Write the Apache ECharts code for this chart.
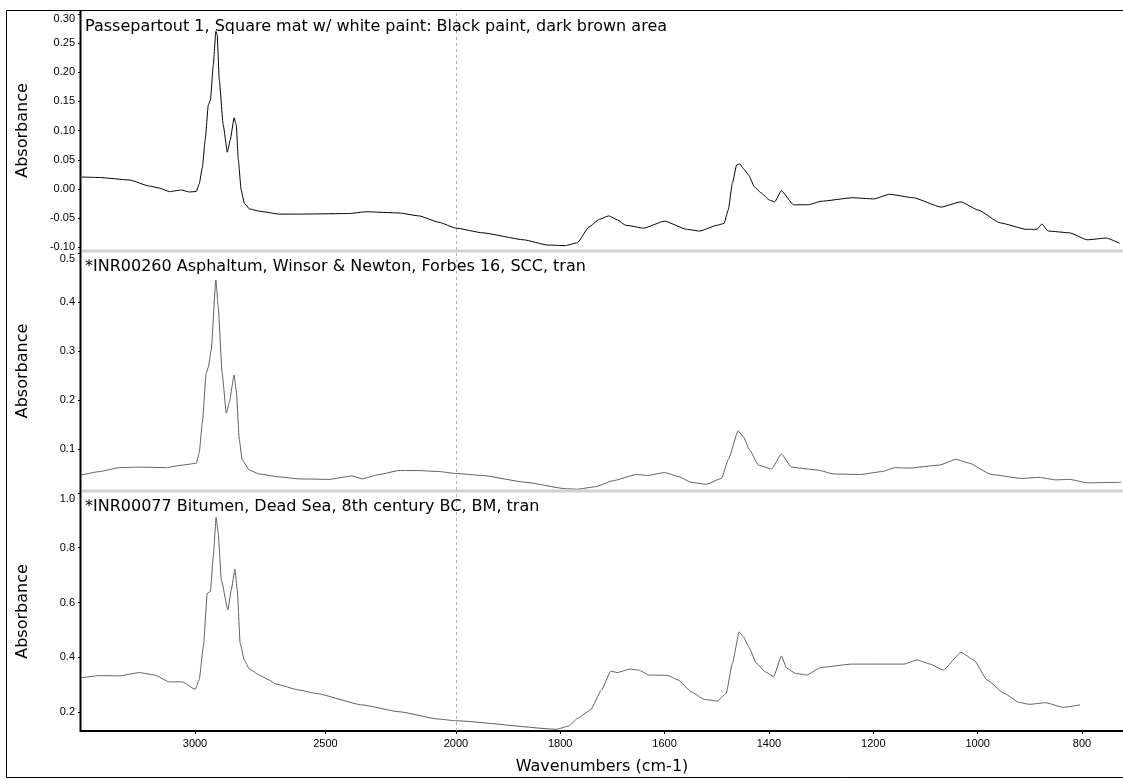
<!DOCTYPE html>
<html>
<head>
<meta charset="utf-8">
<script src="https://cdn.jsdelivr.net/npm/echarts@6/dist/echarts.min.js"></script>
<style>html,body{margin:0;padding:0;background:#fff;}#c{width:1123px;height:779px;}</style>
</head>
<body>
<div id="c"></div>
<script>
// ---- Data (wavenumber cm-1, absorbance) ----
const titles = [
  'Passepartout 1, Square mat w/ white paint: Black paint, dark brown area',
  '*INR00260 Asphaltum, Winsor & Newton, Forbes 16, SCC, tran',
  '*INR00077 Bitumen, Dead Sea, 8th century BC, BM, tran'
];
const wn1 = [3435,3366,3251,3175,3137,3098,3052,3022,2995,2984,2972,2961,2949,2941,2930,2920,2915,2907,2892,2876,2865,2850,2842,2834,2823,2811,2792,2754,2677,2601,2409,2344,2218,2142,2065,2000,1949,1870,1824,1790,1767,1745,1725,1707,1690,1675,1640,1600,1558,1533,1499,1486,1478,1470,1462,1456,1449,1439,1428,1416,1399,1389,1376,1353,1324,1300,1240,1199,1169,1123,1070,1032,999,957,907,886,877,865,824,790,753,728];
const ab1 = [0.0205,0.0197,0.0154,0.0050,0.0017,-0.0045,-0.0017,-0.0051,-0.0043,0.0086,0.036,0.084,0.144,0.152,0.212,0.270,0.264,0.187,0.110,0.063,0.084,0.122,0.110,0.050,-0.002,-0.024,-0.034,-0.038,-0.043,-0.043,-0.042,-0.039,-0.041,-0.046,-0.057,-0.067,-0.075,-0.087,-0.096,-0.097,-0.092,-0.065,-0.052,-0.046,-0.053,-0.062,-0.067,-0.055,-0.069,-0.072,-0.062,-0.059,-0.036,0.010,0.041,0.043,0.035,0.024,0.004,-0.006,-0.019,-0.022,-0.003,-0.027,-0.027,-0.021,-0.015,-0.017,-0.009,-0.015,-0.031,-0.022,-0.036,-0.058,-0.069,-0.069,-0.060,-0.072,-0.075,-0.087,-0.084,-0.093];
const wn2 = [3435,3366,3290,3213,3110,3049,2995,2984,2972,2957,2949,2938,2920,2911,2896,2880,2869,2850,2842,2830,2819,2792,2754,2677,2601,2486,2398,2360,2295,2218,2142,2065,2000,1949,1866,1790,1767,1732,1700,1654,1633,1600,1574,1549,1520,1491,1478,1459,1449,1437,1420,1395,1376,1357,1324,1307,1275,1225,1183,1158,1133,1074,1041,1016,974,916,882,850,824,790,725];
const ab2 = [0.047,0.054,0.062,0.063,0.062,0.067,0.071,0.092,0.153,0.255,0.267,0.302,0.445,0.390,0.255,0.173,0.194,0.251,0.220,0.118,0.078,0.057,0.049,0.043,0.039,0.038,0.045,0.039,0.048,0.056,0.056,0.054,0.050,0.046,0.032,0.019,0.018,0.023,0.035,0.048,0.046,0.052,0.044,0.032,0.028,0.040,0.078,0.137,0.125,0.098,0.067,0.059,0.090,0.063,0.059,0.057,0.049,0.048,0.054,0.062,0.061,0.067,0.079,0.071,0.048,0.040,0.042,0.037,0.038,0.031,0.032];
const wn3 = [3435,3366,3290,3213,3156,3098,3049,2999,2984,2968,2953,2941,2930,2919,2911,2899,2874,2861,2847,2838,2827,2811,2792,2754,2716,2690,2601,2537,2360,2218,2065,2000,1807,1783,1767,1742,1721,1703,1691,1666,1650,1629,1595,1574,1549,1524,1499,1482,1470,1457,1449,1439,1424,1407,1391,1376,1366,1349,1328,1300,1241,1141,1116,1091,1066,1032,1007,982,949,921,900,870,836,804];
const ab3 = [0.325,0.333,0.332,0.344,0.335,0.310,0.310,0.283,0.317,0.439,0.634,0.640,0.767,0.911,0.853,0.682,0.573,0.646,0.721,0.646,0.451,0.390,0.357,0.335,0.317,0.302,0.280,0.268,0.226,0.201,0.174,0.168,0.137,0.149,0.177,0.207,0.280,0.350,0.344,0.357,0.353,0.335,0.334,0.317,0.274,0.246,0.240,0.268,0.378,0.493,0.475,0.439,0.378,0.347,0.329,0.405,0.360,0.341,0.335,0.363,0.375,0.375,0.390,0.375,0.353,0.418,0.390,0.317,0.268,0.235,0.228,0.234,0.217,0.226];
const xTicks = [3000, 2500, 2000, 1800, 1600, 1400, 1200, 1000, 800];
const y1Ticks = [-0.10, -0.05, 0.00, 0.05, 0.10, 0.15, 0.20, 0.25, 0.30];
const y2Ticks = [0.1, 0.2, 0.3, 0.4, 0.5];
const y3Ticks = [0.2, 0.4, 0.6, 0.8, 1.0];

// x axis is compressed 2x above 2000 cm-1 (spectrometer display expansion)
const BREAK = 2000;
const toT = w => (w <= BREAK ? w : BREAK + (w - BREAK) / 2);
const fromT = t => (t <= BREAK ? t : BREAK + (t - BREAK) * 2);

const FONT = 'Liberation Sans, Arial, sans-serif';
const BIG = 'DejaVu Sans, Verdana, sans-serif';
const chart = echarts.init(document.getElementById('c'), null, {renderer: 'canvas'});

const grids = [
  {left: 81, right: 0, top: 11, height: 239},
  {left: 81, right: 0, top: 252, height: 238},
  {left: 81, right: 0, top: 492, height: 239}
];
const yRanges = [[-0.10445, 0.30479], [0.01633, 0.50204], [0.13059, 1.00365]];
const yTickSets = [y1Ticks, y2Ticks, y3Ticks];
const yDigits = [2, 1, 1];
const colors = ['#000000', '#5f5f5f', '#5f5f5f'];
const wns = [wn1, wn2, wn3];
const abs = [ab1, ab2, ab3];

const xAxes = [0, 1, 2].map(i => ({
  type: 'value', gridIndex: i, inverse: true,
  min: 721.4, max: 2718.5,
  show: i === 2,
  axisLine: {show: i === 2, lineStyle: {color: '#000', width: 2}},
  axisTick: {show: i === 2, customValues: xTicks.map(toT), length: 3, lineStyle: {color: '#000'}},
  axisLabel: {show: i === 2, customValues: xTicks.map(toT), color: '#000', fontSize: 11, fontFamily: FONT, margin: 7,
    formatter: v => String(Math.round(fromT(v)))},
  splitLine: {show: false},
  name: i === 2 ? 'Wavenumbers (cm-1)' : '', nameLocation: 'middle', nameGap: 28,
  nameTextStyle: {fontSize: 16, fontFamily: BIG, color: '#000'}
}));

const yAxes = [0, 1, 2].map(i => {
  const ticks = yTickSets[i];
  const topVal = ticks[ticks.length - 1];
  return {
    type: 'value', gridIndex: i,
    min: yRanges[i][0], max: yRanges[i][1],
    axisLine: {show: false},
    axisTick: {show: true, customValues: ticks, length: 3, lineStyle: {color: '#000'}},
    axisLabel: {customValues: ticks, color: '#000', fontSize: 11, fontFamily: FONT, margin: 6, lineHeight: 11,
      formatter: v => {
        const s = v.toFixed(yDigits[i]);
        return Math.abs(v - topVal) < 1e-9 ? '\n' + s : s;
      }
    },
    splitLine: {show: false},
    name: 'Absorbance', nameLocation: 'middle', nameGap: 50,
    nameTextStyle: {fontSize: 16, fontFamily: BIG, color: '#000'}
  };
});

const series = [0, 1, 2].map(i => ({
  type: 'line', xAxisIndex: i, yAxisIndex: i,
  data: wns[i].map((w, k) => [toT(w), abs[i][k]]),
  showSymbol: false, symbol: 'none', smooth: 0.15, smoothMonotone: 'x',
  lineStyle: {color: colors[i], width: 1},
  animation: false, silent: true,
  markLine: {
    silent: true, symbol: 'none', animation: false,
    label: {show: false},
    lineStyle: {color: '#b0b0b0', type: [3, 3], width: 1},
    data: [{xAxis: toT(BREAK)}]
  }
}));

const graphic = [
  {type: 'rect', shape: {x: 6.5, y: 10.5, width: 1122, height: 767}, style: {fill: null, stroke: '#000', lineWidth: 1}, silent: true, z: 10},
  {type: 'line', shape: {x1: 80.5, y1: 10, x2: 80.5, y2: 732}, style: {stroke: '#000', lineWidth: 2}, silent: true, z: 12},
  {type: 'line', shape: {x1: 82, y1: 251, x2: 1123, y2: 251}, style: {stroke: '#d4d0c8', lineWidth: 3}, silent: true, z: 11},
  {type: 'line', shape: {x1: 82, y1: 491, x2: 1123, y2: 491}, style: {stroke: '#d4d0c8', lineWidth: 3}, silent: true, z: 11}
];
const titleTops = [19, 259, 499];
titles.forEach((t, i) => graphic.push({
  type: 'text', x: 85, y: titleTops[i], silent: true, z: 13,
  style: {text: t, fontSize: 16, fontFamily: BIG, fill: '#000', textVerticalAlign: 'top'}
}));

chart.setOption({
  animation: false,
  backgroundColor: '#fff',
  grid: grids,
  xAxis: xAxes,
  yAxis: yAxes,
  series: series,
  graphic: graphic
});
</script>
</body>
</html>
